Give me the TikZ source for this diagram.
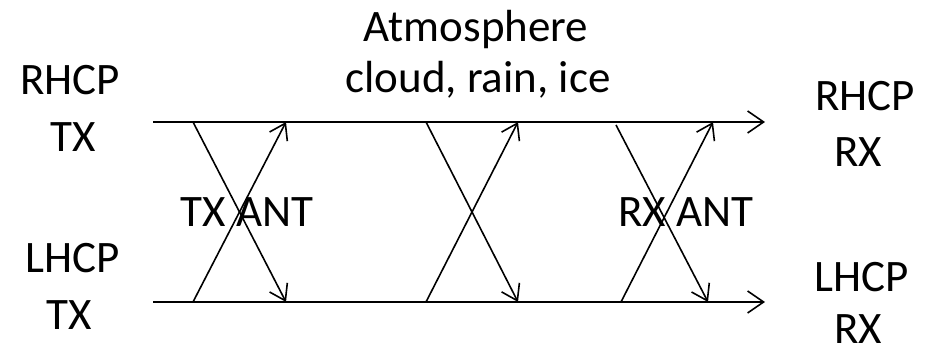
\documentclass[tikz,border=0pt]{standalone}
\usepackage{fontspec}
\setmainfont{Carlito}
\usetikzlibrary{arrows.meta}

\tikzset{
  lbl/.style={inner sep=0pt, anchor=base, font=\fontsize{45pt}{54pt}\selectfont},
  path/.style={line width=1.6pt, -{Straight Barb[length=16pt,width=22pt,line width=1.6pt]}},
  cross/.style={line width=1.6pt, -{Straight Barb[length=15pt,width=20pt,line width=1.6pt]}}
}

\begin{document}
\begin{tikzpicture}[x=1pt,y=1pt]
  \useasboundingbox (0,0) rectangle (930,352);

  % polarisation channels
  \coordinate (rStart) at (153,230);
  \coordinate (rEnd)   at (765,230);
  \coordinate (lStart) at (153,50);
  \coordinate (lEnd)   at (765,50);
  \draw[path] (rStart) -- (rEnd);
  \draw[path] (lStart) -- (lEnd);

  % cross-coupling points: transmit antenna
  \coordinate (t1) at (193,230);
  \coordinate (b1) at (193,50);
  \coordinate (t1e) at (286,230);
  \coordinate (b1e) at (286,50);
  \draw[cross] (t1) -- (b1e);
  \draw[cross] (b1) -- (t1e);

  % atmosphere
  \coordinate (t2) at (426,230);
  \coordinate (b2) at (426,50);
  \coordinate (t2e) at (518,230);
  \coordinate (b2e) at (518,50);
  \draw[cross] (t2) -- (b2e);
  \draw[cross] (b2) -- (t2e);

  % receive antenna
  \coordinate (t3) at (616,227);
  \coordinate (b3) at (621,50);
  \coordinate (t3e) at (713,230);
  \coordinate (b3e) at (708,50);
  \draw[cross] (t3) -- (b3e);
  \draw[cross] (b3) -- (t3e);

  % labels
  \node[lbl] (rtx1) at (70,257) {RHCP};
  \node[lbl] (rtx2) at (73,200) {TX};
  \node[lbl] (ltx1) at (73,79) {LHCP};
  \node[lbl] (ltx2) at (69,22) {TX};

  \node[lbl] (atm1) at (476,310) {Atmosphere};
  \node[lbl] (atm2) at (478,259) {cloud, rain, ice};

  \node[lbl] (rrx1) at (865,241) {RHCP};
  \node[lbl] (rrx2) at (858,185) {RX};
  \node[lbl] (lrx1) at (862,60) {LHCP};
  \node[lbl] (lrx2) at (858,8) {RX};

  \node[lbl] (txant) at (247,125) {TX ANT};
  \node[lbl] (rxant) at (686,125) {RX ANT};
\end{tikzpicture}
\end{document}
